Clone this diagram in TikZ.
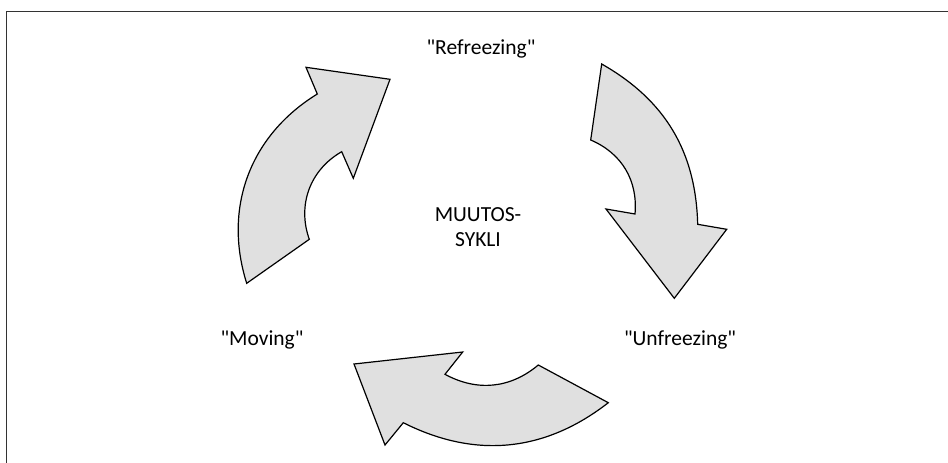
\documentclass[tikz,border=0pt]{standalone}
\usepackage{fontspec}
% a family of its own keeps the straight double quotes unmapped
\newfontfamily\labelfont{Carlito}
\begin{document}
\begin{tikzpicture}[x=1pt,y=-1pt,
  cyclearrow/.style={fill=black!12, draw=black, line width=1.2pt, line join=miter},
  frameline/.style={draw=black!80, line width=1.3pt},
  label/.style={inner sep=0pt, anchor=base, font=\labelfont\fontsize{21.5}{26}\selectfont},
  centrelabel/.style={inner sep=0pt, align=center, font=\labelfont\fontsize{21.5}{25.7}\selectfont}]
\useasboundingbox (0,0) rectangle (948,463);
% frame: only its top and left edges fall inside the page
\begin{scope}
  \clip (0,0) rectangle (948,463);
  \draw[frameline] (6.3,11.7) rectangle (980,490);
\end{scope}

% arrow from "Moving" up to "Refreezing"
\path[cyclearrow] (246.7,283.3) -- (309.3,239.3)
  to[bend left=40] (341.7,151.7)
  -- (353.3,178.3) -- (390,79.3) -- (306,67.3) -- (317.3,94)
  to[bend right=38] (246.7,283.3) -- cycle;

% arrow from "Refreezing" down to "Unfreezing"
\path[cyclearrow] (601.7,64) -- (590.7,140)
  to[bend left=36] (635,214)
  -- (606,209) -- (674.3,298.3) -- (726.7,229.3) -- (697.7,224.3)
  to[bend right=29.4] (601.7,64) -- cycle;

% arrow from "Unfreezing" back to "Moving"
\path[cyclearrow] (608.3,402.7) -- (538.3,365)
  to[bend left=34.2] (445,374.3)
  -- (462.7,352) -- (354,364) -- (385,445) -- (403.3,422.7)
  to[bend right=32.3] (608.3,402.7) -- cycle;

\node[label] (refreezing) at (481,54) {"Refreezing"};
\node[label] (unfreezing) at (680,345) {"Unfreezing"};
\node[label] (moving) at (262,345) {"Moving"};
\node[centrelabel] (cycle) at (478,227) {MUUTOS-\\SYKLI};
\end{tikzpicture}
\end{document}
